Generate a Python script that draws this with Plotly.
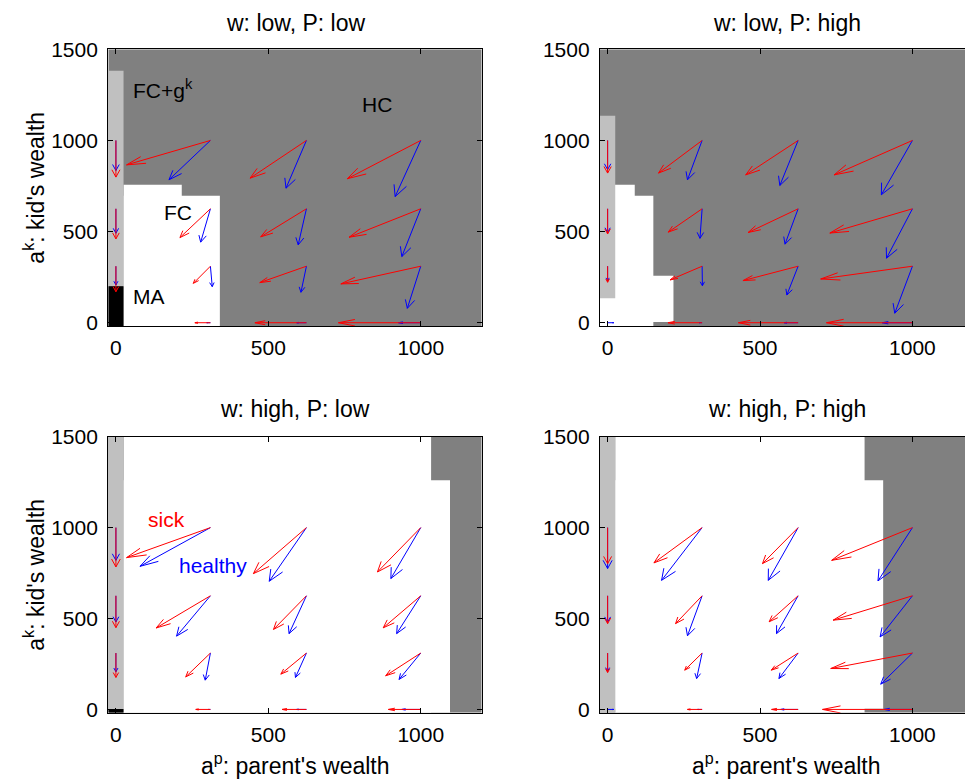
import plotly.graph_objects as go

# ---------------- data ----------------
grid_parent = [0, 310, 625, 1000]   # a^p grid (columns)
grid_kid = [0, 310, 625, 1000]      # a^k grid (rows)

x_ticks = [0, 500, 1000]
y_ticks = [0, 500, 1000, 1500]

panel_titles = ["w: low, P: low", "w: low, P: high", "w: high, P: low", "w: high, P: high"]

# next-period wealth reached from each grid point (rows: kid grid, cols: parent grid)
sick_ap_LL = [[0, 259, 456, 730], [0, 254, 472, 738], [0, 210, 475, 765], [0, 35, 440, 759]]
sick_ak_LL = [[0, 0, 0, 0], [170, 216, 220, 213], [460, 467, 471, 469], [799, 866, 793, 790]]
healthy_ap_LL = [[0, 298, 593, 927], [0, 316, 607, 956], [0, 278, 598, 938], [0, 174, 558, 916]]
healthy_ak_LL = [[0, 0, 0, 0], [207, 198, 167, 79], [491, 442, 427, 363], [835, 784, 738, 692]]

sick_ap_LH = [[0, 198, 429, 718], [0, 205, 444, 699], [0, 199, 461, 729], [0, 167, 453, 743]]
sick_ak_LH = [[0, 0, 0, 0], [222, 235, 231, 240], [487, 497, 495, 492], [821, 821, 811, 811]]
healthy_ap_LH = [[20, 300, 579, 901], [0, 311, 588, 942], [0, 303, 582, 915], [0, 262, 565, 898]]
healthy_ak_LH = [[0, 0, 0, 0], [230, 203, 152, 52], [495, 463, 431, 354], [840, 784, 753, 702]]

sick_ap_HL = [[0, 262, 545, 894], [0, 229, 541, 885], [0, 132, 517, 877], [0, 35, 451, 858]]
sick_ak_HL = [[0, 0, 0, 0], [176, 179, 194, 185], [450, 448, 440, 449], [784, 835, 747, 756]]
healthy_ap_HL = [[0, 303, 593, 938], [0, 293, 589, 929], [0, 199, 568, 921], [0, 79, 503, 902]]
healthy_ak_HL = [[0, 0, 0, 0], [207, 161, 176, 165], [481, 403, 417, 417], [820, 787, 705, 720]]

sick_ap_HH = [[0, 262, 538, 705], [0, 253, 537, 732], [0, 223, 530, 740], [0, 152, 508, 735]]
sick_ak_HH = [[0, 0, 0, 0], [203, 216, 216, 225], [472, 472, 482, 491], [802, 806, 802, 820]]
healthy_ap_HH = [[20, 295, 568, 907], [0, 292, 562, 896], [0, 262, 554, 894], [0, 177, 527, 887]]
healthy_ak_HH = [[0, 0, 0, 0], [210, 170, 170, 139], [480, 405, 417, 399], [775, 710, 710, 707]]

# choice regions: (a^p from, a^p to, a^k from, a^k to, choice); later entries drawn on top
regions_LL = [(-25, 1200, -18, 1500, "HC"), (25, 216, -18, 757, "FC"), (25, 341, -18, 696, "FC"),
              (-25, 25, 200, 1383, "FCg"), (-25, 25, -18, 200, "MA")]
regions_LH = [(-25, 1200, -18, 1500, "HC"), (-25, 89, -18, 757, "FC"), (-25, 150, -18, 696, "FC"),
              (-25, 216, 4, 257, "FC"), (-25, 25, 134, 1136, "FCg")]
regions_HL = [(-25, 1200, -18, 1500, "HC"), (25, 1034, -18, 1500, "FC"), (25, 1096, -18, 1260, "FC"),
              (-25, 25, 2, 1500, "FCg"), (-25, 25, -18, 2, "MA")]
regions_HH = [(-25, 1200, -18, 1500, "HC"), (25, 843, -18, 1500, "FC"), (25, 904, 4, 1260, "FC"),
              (-25, 25, -18, 1500, "FCg")]

# ---------------- styling ----------------
W, H = 965, 779
OFF = 0  # page body margin removed via post_script below
FONT = "Liberation Sans, Arial, Helvetica, sans-serif"
region_colors = {"HC": "#808080", "FC": "#ffffff", "FCg": "#c0c0c0", "MA": "#000000"}

panels = [
    (sick_ap_LL, sick_ak_LL, healthy_ap_LL, healthy_ak_LL, regions_LL),
    (sick_ap_LH, sick_ak_LH, healthy_ap_LH, healthy_ak_LH, regions_LH),
    (sick_ap_HL, sick_ak_HL, healthy_ap_HL, healthy_ak_HL, regions_HL),
    (sick_ap_HH, sick_ak_HH, healthy_ap_HH, healthy_ak_HH, regions_HH),
]

# pixel layout of the axes boxes (window coordinates)
left_px = (108.3, 481.7)
right_px = (600.0, 973.0)
top_px = (49.3, 326.0)
bot_px = (436.7, 712.7)
box_w = left_px[1] - left_px[0]
x_per_px = 1225 / box_w


def pxx(v):
    return min(1.0, (v - OFF) / W)


def pxy(v):
    return 1 - (v - OFF) / H


def quiver_path(x_tails, y_tails, x_heads, y_heads, alpha=0.2, beta=0.33):
    xs, ys = [], []
    for r, y0 in enumerate(y_tails):
        for c, x0 in enumerate(x_tails):
            x1, y1 = x_heads[r][c], y_heads[r][c]
            u, v = x1 - x0, y1 - y0
            if u == 0 and v == 0:
                continue
            xs += [x0, x1, None,
                   x1 - alpha * (u + beta * v), x1, x1 - alpha * (u - beta * v), None]
            ys += [y0, y1, None,
                   y1 - alpha * (v - beta * u), y1, y1 - alpha * (v + beta * u), None]
    return xs, ys


fig = go.Figure()
layout_axes = {}
for i, (sx, sy, hx, hy, regs) in enumerate(panels):
    n = "" if i == 0 else str(i + 1)
    xa, ya = "x" + n, "y" + n
    is_right = i in (1, 3)
    is_top = i in (0, 1)
    xpx = right_px if is_right else left_px
    ypx = top_px if is_top else bot_px
    x0d, x1d = pxx(xpx[0]), pxx(xpx[1])
    xr = [-25, -25 + (x1d - x0d) * W * x_per_px]

    for (x0, x1, y0, y1, kind) in regs:
        fig.add_shape(type="rect", xref=xa, yref=ya, x0=x0, x1=x1, y0=y0, y1=y1,
                      fillcolor=region_colors[kind], line=dict(width=0), layer="below")

    bx, by = quiver_path(grid_parent, grid_kid, hx, hy)
    fig.add_trace(go.Scatter(x=bx, y=by, mode="lines", line=dict(color="#0000ff", width=1),
                             xaxis=xa, yaxis=ya, showlegend=False, hoverinfo="skip"))
    rx, ry = quiver_path(grid_parent, grid_kid, sx, sy)
    fig.add_trace(go.Scatter(x=rx, y=ry, mode="lines", line=dict(color="#ff0000", width=1),
                             xaxis=xa, yaxis=ya, showlegend=False, hoverinfo="skip"))

    common = dict(showgrid=False, zeroline=False, showline=True, linecolor="black", linewidth=1.2,
                  ticks="inside", ticklen=5, tickwidth=1, tickcolor="black", automargin=False,
                  tickfont=dict(family=FONT, size=21, color="black"))
    layout_axes["xaxis" + n] = dict(common, range=xr, tickvals=x_ticks, anchor=ya,
                                    domain=[x0d, x1d], mirror="ticks",
                                    ticklabelstandoff=3)
    layout_axes["yaxis" + n] = dict(common, range=[-18, 1500], tickvals=y_ticks, anchor=xa,
                                    domain=[pxy(ypx[1]), pxy(ypx[0])],
                                    mirror=False if is_right else "ticks", ticklabelstandoff=5)

annotations = []
title_y = [23, 409]
for i, t in enumerate(panel_titles):
    xpx = right_px if i in (1, 3) else left_px
    cx = xpx[0] + box_w / 2
    annotations.append(dict(text=t, xref="paper", yref="paper", x=pxx(cx), y=pxy(title_y[i // 2]),
                            xanchor="center", yanchor="middle", showarrow=False,
                            font=dict(family=FONT, size=23, color="black")))

for ypx in (top_px, bot_px):
    annotations.append(dict(text="a<sup>k</sup>: kid's wealth", xref="paper", yref="paper",
                            x=pxx(34), y=pxy((ypx[0] + ypx[1]) / 2), textangle=-90,
                            xanchor="center", yanchor="middle", showarrow=False,
                            font=dict(family=FONT, size=23, color="black")))
for xpx in (left_px, right_px):
    annotations.append(dict(text="a<sup>p</sup>: parent's wealth", xref="paper", yref="paper",
                            x=pxx(xpx[0] + box_w / 2), y=pxy(764),
                            xanchor="center", yanchor="middle", showarrow=False,
                            font=dict(family=FONT, size=23, color="black")))

labels_LL = [("FC+g<sup>k</sup>", 49, 1284, "black"), ("HC", 801, 1196, "black"),
             ("FC", 150, 603, "black"), ("MA", 49, 143, "black")]
for txt, x, y, col in labels_LL:
    annotations.append(dict(text=txt, xref="x", yref="y", x=x, y=y, xanchor="left", yanchor="middle",
                            showarrow=False, font=dict(family=FONT, size=21, color=col)))
labels_HL = [("sick", 99, 1046, "#ff0000"), ("healthy", 199, 793, "#0000ff")]
for txt, x, y, col in labels_HL:
    annotations.append(dict(text=txt, xref="x3", yref="y3", x=x, y=y, xanchor="left", yanchor="middle",
                            showarrow=False, font=dict(family=FONT, size=21, color=col)))

fig.update_layout(width=W, height=H, margin=dict(l=0, r=0, t=0, b=0),
                  paper_bgcolor="white", plot_bgcolor="white",
                  annotations=annotations, **layout_axes)

fig.write_html("out.html", config={"displayModeBar": False, "staticPlot": True},
               post_script="document.body.style.margin='0';document.body.style.overflow='hidden';")
